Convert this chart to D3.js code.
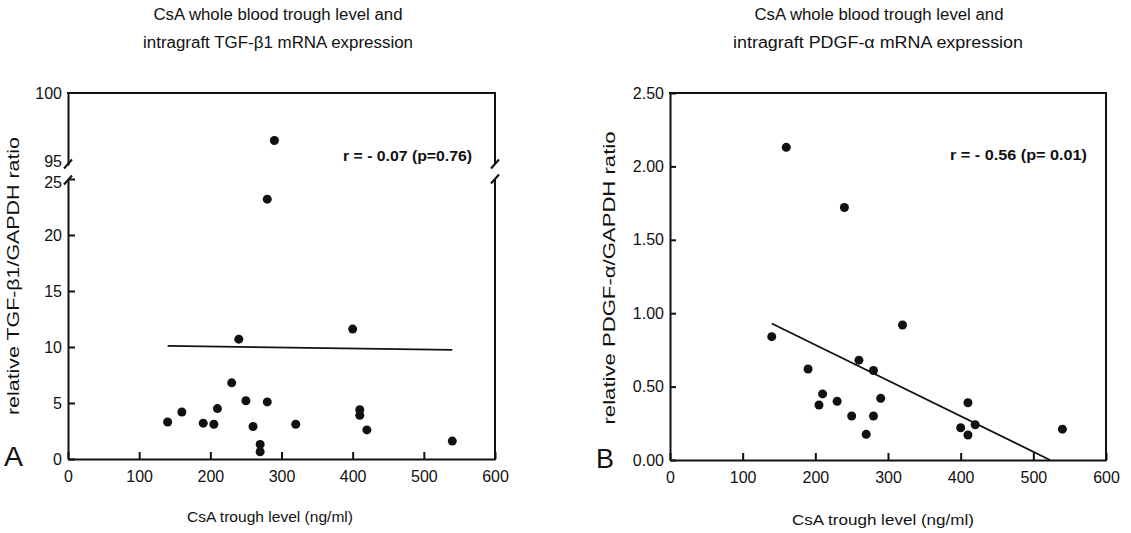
<!DOCTYPE html>
<html>
<head>
<meta charset="utf-8">
<script src="https://cdn.jsdelivr.net/npm/d3@7"></script>
<style>
  body { margin: 0; background: #fff; }
  svg { display: block; }
  .tick text { font-family: "Liberation Sans", Arial, sans-serif; font-size: 16px; fill: #111; }
  .tick line, .domain { stroke: #111; stroke-width: 2px; }
  .lbl { font-family: "Liberation Sans", Arial, sans-serif; fill: #111; }
</style>
</head>
<body>
<div class="chart"></div>
<script>
// Panel A: CsA trough level vs TGF-b1 ratio
var aTrough = [140, 160, 190, 205, 210, 230, 240, 250, 260, 270, 270, 280, 320, 400, 410, 410, 420, 540, 280, 290];
var aRatio = [3.3, 4.2, 3.2, 3.1, 4.5, 6.8, 10.7, 5.2, 2.9, 1.3, 0.65, 5.1, 3.1, 11.6, 4.4, 3.9, 2.6, 1.6, 23.2, 96.7];
var aFit = [[140, 10.1], [540, 9.75]];

// Panel B: CsA trough level vs PDGF-a ratio
var bTrough = [140, 160, 190, 205, 210, 230, 240, 250, 260, 270, 280, 280, 290, 320, 400, 410, 410, 420, 540];
var bRatio = [0.84, 2.13, 0.62, 0.375, 0.45, 0.40, 1.72, 0.30, 0.68, 0.175, 0.61, 0.30, 0.42, 0.92, 0.22, 0.39, 0.17, 0.24, 0.21];
var bFit = [[140, 0.93], [523, 0]];

var xTicks = [0, 100, 200, 300, 400, 500, 600];
var aLowTicks = [0, 5, 10, 15, 20, 25];
var aHighTicks = [95, 100];
var bTicks = [0, 0.5, 1, 1.5, 2, 2.5];

var svg = d3.select('.chart').append('svg')
  .attr('width', 1131)
  .attr('height', 533);

function addText(x, y, str, size, opts) {
  opts = opts || {};
  var t = svg.append('text')
    .attr('class', 'lbl')
    .attr('x', x)
    .attr('y', y)
    .attr('font-size', size)
    .attr('text-anchor', opts.anchor || 'start')
    .attr('font-weight', opts.bold ? 'bold' : 'normal')
    .text(str);
  if (opts.len) t.attr('textLength', opts.len).attr('lengthAdjust', 'spacingAndGlyphs');
  if (opts.rotate) t.attr('transform', 'rotate(-90,' + x + ',' + y + ')');
  return t;
}

function slash(x, y) {
  svg.append('line')
    .attr('x1', x - 4).attr('y1', y + 4.5)
    .attr('x2', x + 4).attr('y2', y - 4.5)
    .attr('stroke', '#111').attr('stroke-width', 2);
}

function vline(x, y1, y2) {
  svg.append('line')
    .attr('x1', x).attr('x2', x).attr('y1', y1).attr('y2', y2)
    .attr('stroke', '#111').attr('stroke-width', 2);
}

function dots(xs, ys, xScale, yScaleFn) {
  svg.append('g').selectAll('circle')
    .data(xs)
    .enter()
    .append('circle')
    .attr('cx', function(d) { return xScale(d); })
    .attr('cy', function(d, i) { return yScaleFn(ys[i]); })
    .attr('r', 4.5)
    .attr('fill', '#111');
}

// ---------- Panel A ----------
var ax = d3.scaleLinear().domain([0, 600]).range([68, 495]);
var ayLow = d3.scaleLinear().domain([0, 25]).range([459, 179]);
var ayHigh = d3.scaleLinear().domain([95, 100]).range([165, 93]);
function ay(v) { return v > 50 ? ayHigh(v) : ayLow(v); }

svg.append('g')
  .attr('transform', 'translate(0,459)')
  .call(d3.axisBottom(ax).tickValues(xTicks).tickSizeInner(-7).tickSizeOuter(0).tickPadding(12));

var lowAxis = svg.append('g')
  .attr('transform', 'translate(68,0)')
  .call(d3.axisLeft(ayLow).tickValues(aLowTicks).tickSizeInner(-7).tickSizeOuter(0).tickPadding(6));
// nudge the "25" label down a little so it clears "95" at the break
lowAxis.selectAll('.tick text').filter(function(d) { return d === 25; }).attr('dy', '0.55em');

var highAxis = svg.append('g')
  .attr('transform', 'translate(68,0)')
  .call(d3.axisLeft(ayHigh).tickValues(aHighTicks).tickFormat(d3.format('d')).tickSizeInner(0).tickSizeOuter(0).tickPadding(6));
highAxis.selectAll('.tick text').filter(function(d) { return d === 95; }).attr('dy', '0.1em');

// top frame and broken right frame
svg.append('line').attr('x1', 67).attr('x2', 496).attr('y1', 93).attr('y2', 93)
  .attr('stroke', '#111').attr('stroke-width', 2);
vline(495, 93, 164);
vline(495, 179, 460);
slash(68, 164); slash(68, 180);
slash(495, 164); slash(495, 179);

svg.append('line')
  .attr('x1', ax(aFit[0][0])).attr('y1', ay(aFit[0][1]))
  .attr('x2', ax(aFit[1][0])).attr('y2', ay(aFit[1][1]))
  .attr('stroke', '#111').attr('stroke-width', 1.8);

dots(aTrough, aRatio, ax, ay);

addText(278, 20, 'CsA whole blood trough level and', 16, { anchor: 'middle', len: 249 });
addText(278, 48, 'intragraft TGF-\u03b21 mRNA expression', 16, { anchor: 'middle', len: 270 });
addText(472, 161, 'r = - 0.07 (p=0.76)', 14, { anchor: 'end', bold: true, len: 129 });
addText(19, 276, 'relative TGF-\u03b21/GAPDH ratio', 16, { anchor: 'middle', rotate: true, len: 278 });
addText(187, 522, 'CsA trough level (ng/ml)', 15, { len: 166 });
addText(4, 466, 'A', 28, { len: 19 });

// ---------- Panel B ----------
var bx = d3.scaleLinear().domain([0, 600]).range([670, 1106]);
var by = d3.scaleLinear().domain([0, 2.5]).range([460, 93]);

svg.append('g')
  .attr('transform', 'translate(0,460)')
  .call(d3.axisBottom(bx).tickValues(xTicks).tickSizeInner(-7).tickSizeOuter(0).tickPadding(12));

svg.append('g')
  .attr('transform', 'translate(670,0)')
  .call(d3.axisLeft(by).tickValues(bTicks).tickFormat(d3.format('.2f')).tickSizeInner(-6).tickSizeOuter(0).tickPadding(6));

svg.append('line').attr('x1', 669).attr('x2', 1107).attr('y1', 93).attr('y2', 93)
  .attr('stroke', '#111').attr('stroke-width', 2);
vline(1106, 93, 461);

svg.append('line')
  .attr('x1', bx(bFit[0][0])).attr('y1', by(bFit[0][1]))
  .attr('x2', bx(bFit[1][0])).attr('y2', by(bFit[1][1]))
  .attr('stroke', '#111').attr('stroke-width', 1.8);

dots(bTrough, bRatio, bx, by);

addText(879, 20, 'CsA whole blood trough level and', 16, { anchor: 'middle', len: 249 });
addText(878, 48, 'intragraft PDGF-\u03b1  mRNA expression', 16, { anchor: 'middle', len: 290 });
addText(1087, 160, 'r = - 0.56 (p= 0.01)', 14, { anchor: 'end', bold: true, len: 137 });
addText(615, 278, 'relative PDGF-\u03b1/GAPDH ratio', 16, { anchor: 'middle', rotate: true, len: 293 });
addText(792, 525, 'CsA trough level (ng/ml)', 15, { len: 182 });
addText(596, 468, 'B', 28, { len: 18 });
</script>
</body>
</html>
